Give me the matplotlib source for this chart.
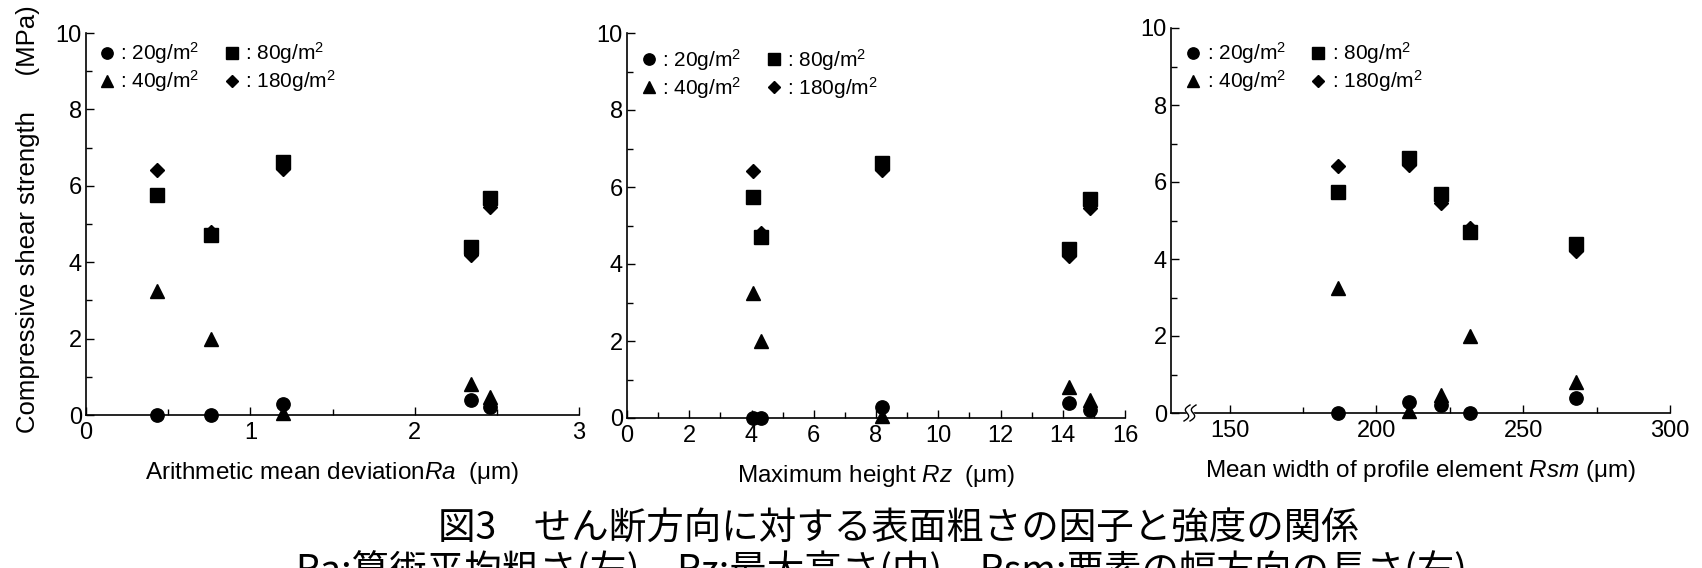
import numpy as np
import matplotlib
matplotlib.use("Agg")
import matplotlib.pyplot as plt
from matplotlib.lines import Line2D

plt.rcParams['font.family'] = ['Liberation Sans', 'DejaVu Sans']
plt.rcParams['mathtext.fontset'] = 'custom'
plt.rcParams['mathtext.rm'] = 'Liberation Sans'
plt.rcParams['mathtext.it'] = 'Liberation Sans:italic'
plt.rcParams['mathtext.bf'] = 'Liberation Sans:bold'

# ---- data (5 surface samples A..E) ----
ra = [0.43, 0.76, 1.20, 2.34, 2.46]          # Ra (um)
rz = [4.05, 4.32, 8.19, 14.21, 14.88]        # Rz (um)
rsm = [187, 232, 211, 268, 222]              # Rsm (um)

s20 = [0.00, 0.00, 0.28, 0.38, 0.20]         # 20 g/m2
s40 = [3.25, 2.00, 0.05, 0.80, 0.47]         # 40 g/m2
s80 = [5.75, 4.70, 6.63, 4.40, 5.68]         # 80 g/m2
s180 = [6.42, 4.80, 6.45, 4.20, 5.45]        # 180 g/m2

series_labels = [': 20g/m$^2$', ': 40g/m$^2$', ': 80g/m$^2$', ': 180g/m$^2$']
xlabels = ['Arithmetic mean deviation$\\mathit{Ra}$  (μm)',
           'Maximum height $\\mathit{Rz}$  (μm)',
           'Mean width of profile element $\\mathit{Rsm}$ (μm)']
ylabel = 'Compressive shear strength     (MPa)'
caption1 = '図3　せん断方向に対する表面粗さの因子と強度の関係'
caption2 = 'Ra:算術平均粗さ(左)　Rz:最大高さ(中)　Rsm:要素の幅方向の長さ(右)'

W, H = 1702, 568
fig = plt.figure(figsize=(W / 100, H / 100), dpi=100)

def px_axes(left, right, top, bottom):
    return fig.add_axes([left / W, (H - bottom) / H, (right - left) / W, (bottom - top) / H])

ax1 = px_axes(86, 579, 33, 415)
ax2 = px_axes(627, 1125, 33, 418)
ax3 = px_axes(1171, 1670, 28, 413)

styles = [('o', 9.6), ('^', 9.6), ('s', 10.3), ('D', 7.3)]
yseries = [s20, s40, s80, s180]
legend_pos = [(106.7, 53.3), (648.6, 60.0), (1193.0, 53.3)]

fs_tick = 17
fs_lab = 17.5
fs_leg = 15
for ax, xs, xl, lp in zip([ax1, ax2, ax3], [ra, rz, rsm], xlabels, legend_pos):
    handles = []
    for (m, ms), ys in zip(styles, yseries):
        ax.plot(xs, ys, ls='none', marker=m, ms=ms, color='black', clip_on=False, zorder=3)
        handles.append(Line2D([], [], ls='none', marker=m, ms=ms * 0.85, color='black'))
    ax.set_ylim(0, 10)
    ax.set_yticks([0, 2, 4, 6, 8, 10])
    ax.set_yticks([1, 3, 5, 7, 9], minor=True)
    for s in ['top', 'right']:
        ax.spines[s].set_visible(False)
    for s in ['left', 'bottom']:
        ax.spines[s].set_linewidth(1.2)
    ax.tick_params(axis='both', which='both', direction='in', width=1.0, labelsize=fs_tick)
    ax.tick_params(axis='both', which='major', length=6)
    ax.tick_params(axis='both', which='minor', length=4)
    ax.tick_params(axis='y', pad=3)
    ax.tick_params(axis='x', pad=5)
    ax.set_xlabel(xl, fontsize=fs_lab)
    ax.xaxis.label.set_va('center')
    bh = ax.get_position().height * H
    ax.xaxis.set_label_coords(0.5, -(473 - 415) / bh)
    ax.legend(handles, series_labels, ncol=2, loc='upper left', frameon=False,
              fontsize=fs_leg, handlelength=1.0, handletextpad=0.15, columnspacing=1.05,
              labelspacing=0.1, borderpad=0, borderaxespad=0,
              bbox_to_anchor=((lp[0] - 10.4) / W, (H - lp[1] + 13) / H),
              bbox_transform=fig.transFigure)

ax1.set_xlim(0, 3)
ax1.set_xticks([0, 1, 2, 3])
ax1.set_xticks([0.5, 1.5, 2.5], minor=True)

ax2.set_xlim(0, 16)
ax2.set_xticks(np.arange(0, 17, 2))
ax2.set_xticks(np.arange(1, 16, 2), minor=True)

ax3.set_xlim(130, 300)
ax3.set_xticks([150, 200, 250, 300])
ax3.set_xticks([175, 225, 275], minor=True)

ax1.set_ylabel(ylabel, fontsize=18.5)
ax1.yaxis.label.set_va('center')
ax1.yaxis.set_label_coords(-(86 - 28) / 493, 0.513)

# axis break mark on third panel
aw = ax3.get_position().width * W
ah = ax3.get_position().height * H
t = np.linspace(-1, 1, 40)
cx = (1190 - 1171) / aw
xa = cx + (-3.0 - 3.0 * np.sin(np.pi * t) + 3.0 * t) / aw
xb = cx + (3.0 - 3.0 * np.sin(np.pi * t) + 3.0 * t) / aw
yy = (8.0 * t) / ah
ax3.fill_betweenx(yy, xa, xb, color='white', transform=ax3.transAxes, clip_on=False, zorder=4)
for xx in (xa, xb):
    ax3.plot(xx, yy, color='black', lw=1.0, transform=ax3.transAxes, clip_on=False, zorder=5)

cjk = ['Noto Sans CJK JP', 'DejaVu Sans']
fig.text(898 / W, (H - 529) / H, caption1, ha='center', va='center', fontsize=27, family=cjk)
fig.text(882 / W, (H - 572) / H, caption2, ha='center', va='center', fontsize=27, family=cjk)

fig.savefig('out.png', dpi=100)
